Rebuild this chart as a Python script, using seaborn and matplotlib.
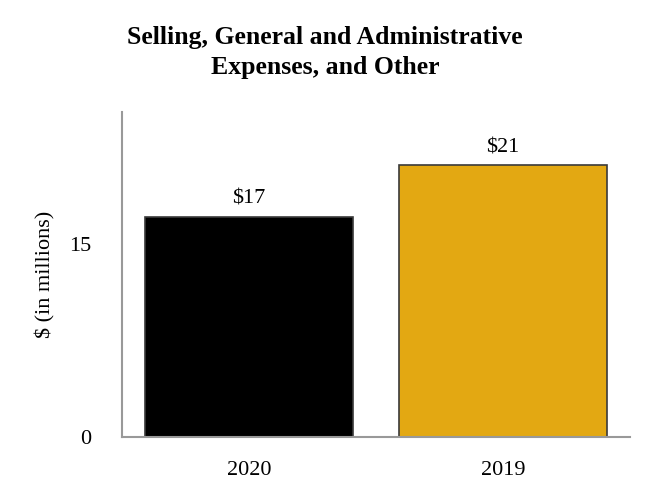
import matplotlib
matplotlib.use('Agg')
import matplotlib.pyplot as plt
import seaborn as sns
import pandas as pd

# Values
years = ['2020', '2019']
expenses = [17.1, 21.1]
value_labels = ['$17', '$21']
bar_colors = ['#000000', '#E3A812']

sns.set_style('white')
plt.rcParams['font.family'] = ['Liberation Serif', 'DejaVu Serif']
plt.rcParams['text.color'] = 'black'
plt.rcParams['xtick.color'] = 'black'
plt.rcParams['ytick.color'] = 'black'
plt.rcParams['axes.labelcolor'] = 'black'

df = pd.DataFrame({'year': years, 'expense': expenses})

fig = plt.figure(figsize=(6.5, 5), dpi=100)
ax = fig.add_axes([0.188, 0.126, 0.781, 0.65])

sns.barplot(data=df, x='year', y='expense', hue='year', palette=bar_colors,
            saturation=1, width=0.82, edgecolor='#3a3a3a', linewidth=1.2,
            legend=False, ax=ax)

for bar, label in zip(ax.patches, value_labels):
    ax.text(bar.get_x() + bar.get_width() / 2, bar.get_height() + 0.65, label,
            ha='center', va='bottom', fontsize=16)

ax.set_ylim(0, 25.25)
ax.set_xlim(-0.5, 1.5)
ax.set_yticks([0, 15])
ax.tick_params(axis='both', length=0, labelsize=16)
ax.tick_params(axis='x', pad=17)
ax.tick_params(axis='y', pad=22)
ax.set_xlabel('')
ax.set_ylabel('$ (in millions)', fontsize=16, labelpad=10)

for side in ['top', 'right']:
    ax.spines[side].set_visible(False)
for side in ['left', 'bottom']:
    ax.spines[side].set_color('#999999')
    ax.spines[side].set_linewidth(1.5)

fig.text(0.5, 0.895, 'Selling, General and Administrative\nExpenses, and Other',
         ha='center', va='center', fontsize=18.5, fontweight='bold', linespacing=1.4)

fig.savefig('out.png', dpi=100)
